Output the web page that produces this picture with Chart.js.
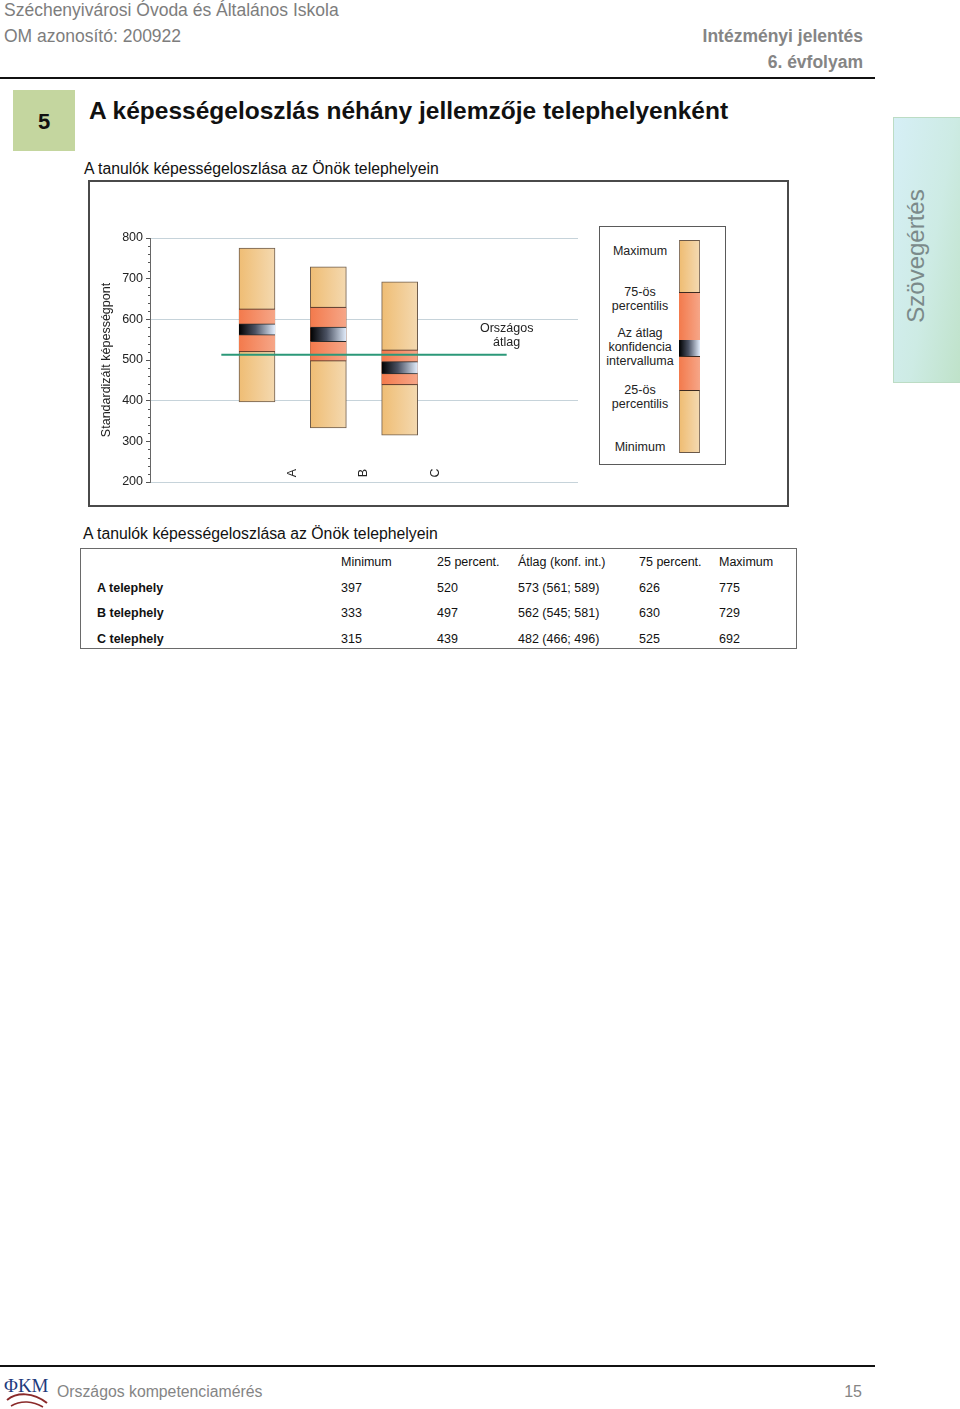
<!DOCTYPE html>
<html lang="hu">
<head>
<meta charset="utf-8">
<title>A képességeloszlás néhány jellemzője telephelyenként</title>
<script src="https://cdn.jsdelivr.net/npm/chart.js@4/dist/chart.umd.min.js"></script>
<style>
    html, body { margin: 0; padding: 0; background: #fff; }
    body { width: 960px; height: 1409px; position: relative; overflow: hidden;
           font-family: "Liberation Sans", Arial, sans-serif; color: #111; }
    .abs { position: absolute; white-space: nowrap; }
    .hdr { color: #7d7d7d; font-size: 17.5px; line-height: 20px; }
    .hdr-r { color: #858585; font-size: 17.5px; line-height: 20px; font-weight: bold; text-align: right; }
    .rule { position: absolute; left: 0; width: 875px; height: 2px; background: #111; }
    #secNum { left: 13px; top: 90px; width: 62px; height: 61px; background: #c4d69f;
              font-weight: bold; font-size: 22px; line-height: 63px; text-align: center; color: #111; }
    #secTitle { left: 89px; top: 97px; font-weight: bold; font-size: 24.5px; line-height: 28px; color: #111; }
    #tab { left: 893px; top: 117px; width: 67px; height: 266px; box-sizing: border-box;
           border: 1px solid #bcdcc4; border-right: 0;
           background: linear-gradient(100deg, #d6eff6 0%, #cdebe4 55%, #bfe2c9 100%); }
    #tab span { position: absolute; left: 22px; top: 138px; transform: translate(-50%, -50%) rotate(-90deg);
                font-size: 24px; color: #7b8a8a; white-space: nowrap; }
    .subttl { font-size: 15.8px; line-height: 18px; color: #111; }
    #frame { left: 88px; top: 180px; width: 701px; height: 327px; box-sizing: border-box; border: 2px solid #4a4a4a; }
    #chartBox { position: absolute; left: 0; top: 0; width: 697px; height: 323px; }
    #legend { left: 599px; top: 226px; width: 127px; height: 239px; box-sizing: border-box; border: 1px solid #5a5a5a; background: #fff; }
    #legend .lab { position: absolute; left: 1px; width: 78px; text-align: center; font-size: 12.5px; line-height: 14px; color: #222; }
    #legend .seg { position: absolute; left: 79px; width: 21px; box-sizing: border-box; }
    .light  { background: linear-gradient(90deg, #efbd74, #f4d9b0); border-left: 1px solid #8a7866; border-right: 1px solid #8a7866; }
    .salmon { background: linear-gradient(90deg, #f37a4c, #f6a688); border-top: 1px solid #3c2a20; }
    .ci     { background: linear-gradient(90deg, #000 0%, #4a5162 45%, #e2edfc 100%); }
    #tbl { left: 80px; top: 548px; width: 717px; height: 101px; box-sizing: border-box; border: 1px solid #6a6a6a; }
    #tbl table { border-collapse: collapse; table-layout: fixed; width: 715px; margin-top: 1px; }
    #tbl td { height: 25.5px; padding: 0; font-size: 12.5px; line-height: 25.5px; color: #111; white-space: nowrap; }
    #tbl td.lbl { padding-left: 16px; font-weight: bold; }
    #footTxt { left: 57px; top: 1382px; font-size: 15.8px; line-height: 20px; color: #858585; }
    #pageNo { left: 830px; width: 32px; top: 1382px; font-size: 16px; line-height: 20px; color: #858585; text-align: right; }
</style>
</head>
<body>

<div class="abs hdr" style="left:4px;top:0px">Széchenyivárosi Óvoda és Általános Iskola</div>
<div class="abs hdr" style="left:4px;top:26px">OM azonosító: 200922</div>
<div class="abs hdr-r" style="right:97px;top:26px">Intézményi jelentés</div>
<div class="abs hdr-r" style="right:97px;top:52px">6. évfolyam</div>
<div class="rule" style="top:77px"></div>

<div id="secNum" class="abs">5</div>
<div id="secTitle" class="abs">A képességeloszlás néhány jellemzője telephelyenként</div>
<div id="tab" class="abs"><span>Szövegértés</span></div>

<div class="abs subttl" style="left:84px;top:160px">A tanulók képességeloszlása az Önök telephelyein</div>
<div id="frame" class="abs">
    <div id="chartBox"><canvas id="chartDist"></canvas></div>
</div>

<div id="legend" class="abs">
    <div class="lab" style="top:17px">Maximum</div>
    <div class="lab" style="top:58px">75-ös<br>percentilis</div>
    <div class="lab" style="top:99px">Az átlag<br>konfidencia<br>intervalluma</div>
    <div class="lab" style="top:156px">25-ös<br>percentilis</div>
    <div class="lab" style="top:213px">Minimum</div>
    <div class="seg light"  style="top:13px;height:52px;border-top:1px solid #6a5848"></div>
    <div class="seg salmon" style="top:65px;height:48px"></div>
    <div class="seg ci"     style="top:113px;height:16px"></div>
    <div class="seg salmon" style="top:129px;height:34px"></div>
    <div class="seg light"  style="top:163px;height:63px;border-top:1px solid #3c2a20;border-bottom:1px solid #6a5848"></div>
</div>

<div class="abs subttl" style="left:83px;top:525px">A tanulók képességeloszlása az Önök telephelyein</div>
<div id="tbl" class="abs">
    <table>
        <colgroup>
            <col style="width:260px"><col style="width:96px"><col style="width:81px">
            <col style="width:121px"><col style="width:80px"><col>
        </colgroup>
        <tbody id="tblBody"></tbody>
    </table>
</div>

<div class="rule" style="top:1365px"></div>
<svg class="abs" style="left:3px;top:1370px" width="48" height="38" viewBox="0 0 48 38">
    <path d="M4 30 C 14 22, 30 22, 44 33" stroke="#8a2a2a" stroke-width="2" fill="none"/>
    <path d="M8 36 C 18 30, 30 31, 40 37" stroke="#8a2a2a" stroke-width="1.5" fill="none"/>
    <text x="1" y="22" font-family="Liberation Serif, serif" font-size="19" fill="#1e3a7c">ΦKM</text>
</svg>
<div id="footTxt" class="abs">Országos kompetenciamérés</div>
<div id="pageNo" class="abs">15</div>

<script>
'use strict';

Chart.defaults.font.family = "'Liberation Sans', Arial, sans-serif";
Chart.defaults.font.size = 12;
Chart.defaults.color = '#222';

const sites     = ['A', 'B', 'C'];
const siteNames = ['A telephely', 'B telephely', 'C telephely'];
const minimum   = [397, 333, 315];
const p25       = [520, 497, 439];
const mean      = [573, 562, 482];
const ciLow     = [561, 545, 466];
const ciHigh    = [589, 581, 496];
const p75       = [626, 630, 525];
const maximum   = [775, 729, 692];
const nationalAvg = 513;

const tableHeads = ['Minimum', '25 percent.', 'Átlag (konf. int.)', '75 percent.', 'Maximum'];
const yTicks = [200, 300, 400, 500, 600, 700, 800];

// slot layout on a 0..6 axis: bar in the middle of slot i+1, letter on its right edge
const barPos   = i => i + 1.5;
const labelPos = i => i + 2;
const AVG_FROM = 1, AVG_TO = 5;

function hGrad(stops, half) {
    return ctx => {
        const chart = ctx.chart;
        const x = chart.scales && chart.scales.x;
        if (!chart.chartArea || !x || !ctx.raw) return stops[0][1];
        const cx = x.getPixelForValue(ctx.raw.x);
        const g = chart.ctx.createLinearGradient(cx - half, 0, cx + half, 0);
        stops.forEach(([p, c]) => g.addColorStop(p, c));
        return g;
    };
}

const BAR_W = 36;
const rangeBars = sites.map((s, i) => ({ x: barPos(i), y: [minimum[i], maximum[i]] }));
const iqrBars   = sites.map((s, i) => ({ x: barPos(i), y: [p25[i], p75[i]] }));
const ciBars    = sites.map((s, i) => ({ x: barPos(i), y: [ciLow[i], ciHigh[i]] }));

const overlay = {
    id: 'overlay',
    afterDatasetsDraw(chart) {
        const { ctx, chartArea, scales: { x, y } } = chart;
        ctx.save();
        // minor ticks every 20
        ctx.strokeStyle = '#555';
        ctx.lineWidth = 1;
        for (let v = yTicks[0]; v <= yTicks[yTicks.length - 1]; v += 20) {
            if (v % 100 === 0) continue;
            const py = Math.round(y.getPixelForValue(v)) + 0.5;
            ctx.beginPath();
            ctx.moveTo(chartArea.left - 2, py);
            ctx.lineTo(chartArea.left, py);
            ctx.stroke();
        }
        // site letters, rotated, sitting on the bottom line
        ctx.fillStyle = '#222';
        ctx.font = "12.5px 'Liberation Sans', Arial, sans-serif";
        ctx.textAlign = 'center';
        ctx.textBaseline = 'middle';
        sites.forEach((s, i) => {
            ctx.save();
            ctx.translate(x.getPixelForValue(labelPos(i)), chartArea.bottom - 9);
            ctx.rotate(-Math.PI / 2);
            ctx.fillText(s, 0, 0);
            ctx.restore();
        });
        // national average label
        const lx = x.getPixelForValue(AVG_TO);
        const ly = y.getPixelForValue(nationalAvg);
        ctx.fillText('Országos', lx, ly - 26);
        ctx.fillText('átlag', lx, ly - 12);
        ctx.restore();
    }
};

new Chart(document.getElementById('chartDist'), {
    type: 'bar',
    data: {
        datasets: [
            {
                type: 'line', label: 'Országos átlag',
                data: [{ x: AVG_FROM, y: nationalAvg }, { x: AVG_TO, y: nationalAvg }],
                borderColor: '#2b9878', borderWidth: 2, pointRadius: 0, order: 0,
            },
            {
                label: 'Konfidencia intervallum', data: ciBars, order: 1,
                backgroundColor: hGrad([[0, '#000000'], [0.45, '#4a5162'], [1, '#e2edfc']], BAR_W / 2),
                borderColor: '#2a2a2a', borderWidth: { top: 1, bottom: 1, left: 0, right: 0 },
                borderSkipped: false, barThickness: BAR_W, grouped: false,
            },
            {
                label: '25-75 percentilis', data: iqrBars, order: 2,
                backgroundColor: hGrad([[0, '#f37a4c'], [1, '#f6a688']], BAR_W / 2),
                borderColor: '#3c2a20', borderWidth: { top: 1, bottom: 1, left: 0, right: 0 },
                borderSkipped: false, barThickness: BAR_W, grouped: false,
            },
            {
                label: 'Minimum-maximum', data: rangeBars, order: 3,
                backgroundColor: hGrad([[0, '#efbd74'], [1, '#f4d9b0']], BAR_W / 2),
                borderColor: '#6e5c4c', borderWidth: 1,
                borderSkipped: false, barThickness: BAR_W, grouped: false,
            },
        ]
    },
    options: {
        responsive: true, maintainAspectRatio: false, animation: false,
        layout: { padding: { top: 56, right: 209, bottom: 23, left: 0 } },
        plugins: { legend: { display: false }, tooltip: { enabled: false } },
        scales: {
            x: { type: 'linear', display: false, min: 0, max: 6, offset: false },
            y: {
                min: yTicks[0], max: yTicks[yTicks.length - 1],
                afterBuildTicks: s => { s.ticks = yTicks.map(v => ({ value: v })); },
                afterFit: s => { s.width = 60; },
                ticks: { color: '#222', padding: 3, font: { size: 12.5 } },
                grid: {
                    color: c => (c.tick && c.tick.value % 200 === 0) ? '#c6d3da' : 'rgba(0,0,0,0)',
                    tickColor: '#555', tickLength: 4,
                },
                border: { color: '#666', width: 1 },
                title: {
                    display: true, text: 'Standardizált képességpont', color: '#222',
                    font: { size: 12.5 }, padding: { top: 9, bottom: 0 },
                },
            }
        }
    },
    plugins: [overlay]
});

// ---- table under the chart ----
const rows = [['', ...tableHeads]].concat(sites.map((s, i) => [
    siteNames[i], minimum[i], p25[i], `${mean[i]} (${ciLow[i]}; ${ciHigh[i]})`, p75[i], maximum[i]
]));
document.getElementById('tblBody').innerHTML = rows.map(r => `
    <tr>${r.map((c, j) => `<td class="${j === 0 ? 'lbl' : ''}">${c}</td>`).join('')}</tr>
`).join('');
</script>
</body>
</html>
